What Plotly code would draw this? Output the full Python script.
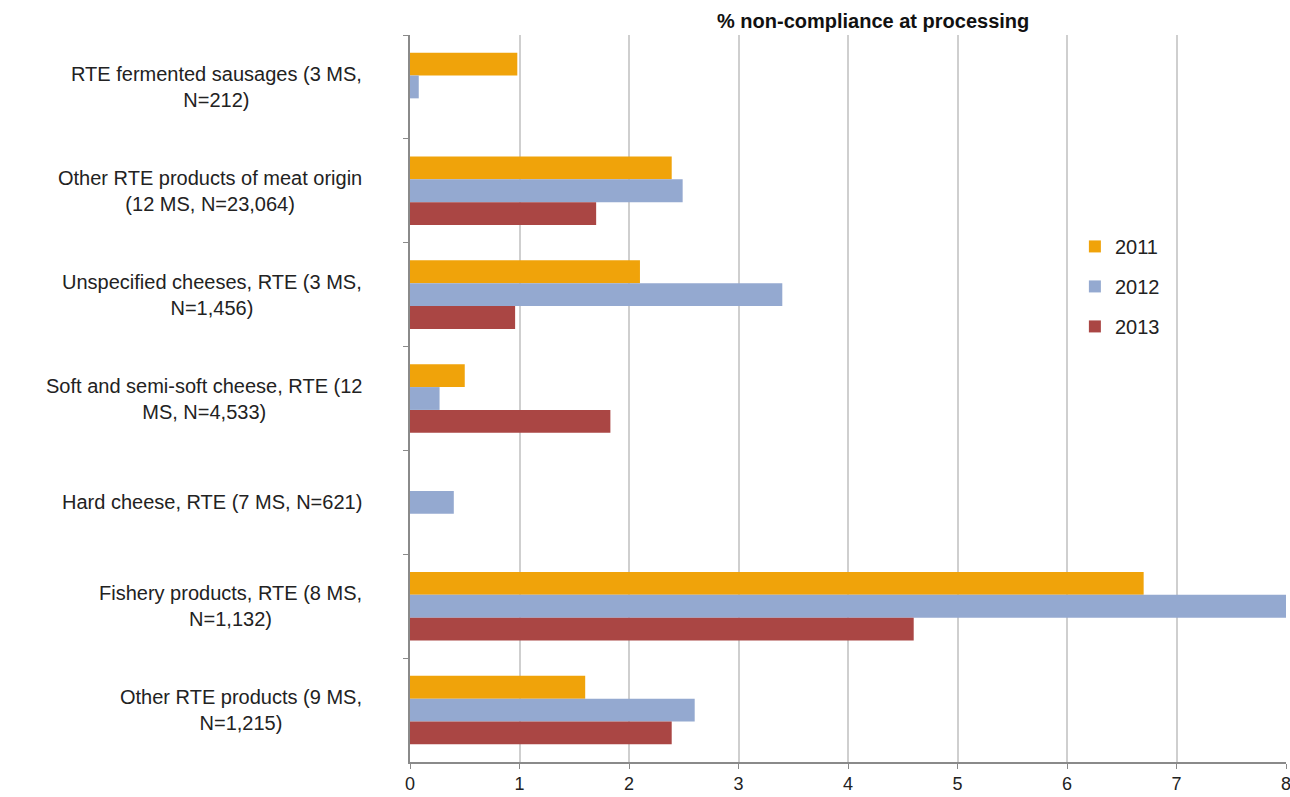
import plotly.graph_objects as go

# Food categories (top to bottom) and % non-compliance at processing per year
categories = [
    "RTE fermented sausages (3 MS,<br>N=212)",
    "Other RTE products of meat origin<br>(12 MS, N=23,064)",
    "Unspecified cheeses, RTE (3 MS,<br>N=1,456)",
    "Soft and semi-soft cheese, RTE (12<br>MS, N=4,533)",
    "Hard cheese, RTE (7 MS, N=621)",
    "Fishery products, RTE (8 MS,<br>N=1,132)",
    "Other RTE products (9 MS,<br>N=1,215)",
]
years = ["2011", "2012", "2013"]
values_2011 = [0.98, 2.39, 2.10, 0.50, 0.0, 6.70, 1.60]
values_2012 = [0.08, 2.49, 3.40, 0.27, 0.40, 8.00, 2.60]
values_2013 = [0.0, 1.70, 0.96, 1.83, 0.0, 4.60, 2.39]
x_ticks = [0, 1, 2, 3, 4, 5, 6, 7, 8]

colors = ["#F0A30A", "#94A9D0", "#AA4644"]
series = [values_2011, values_2012, values_2013]
font_family = "Liberation Sans, Arial"

fig = go.Figure()
for year, vals, col in zip(years, series, colors):
    fig.add_trace(go.Bar(
        y=categories, x=vals, name=year, orientation="h",
        marker=dict(color=col, line=dict(width=0)),
        legendgroup=year,
    ))

# category labels, centred multi-line text right-aligned against the axis
for cat in categories:
    fig.add_annotation(
        x=0, xref="paper", y=cat, yref="y", text=cat,
        xanchor="right", xshift=-46, align="center", showarrow=False,
        font=dict(family=font_family, size=20, color="#222222"),
    )

fig.add_annotation(
    x=0.528, xref="paper", y=1, yref="paper", yanchor="bottom", yshift=1,
    text="<b>% non-compliance at processing</b>", showarrow=False,
    font=dict(family=font_family, size=20, color="#111111"),
)

fig.update_layout(
    width=1290, height=797,
    margin=dict(l=410, r=4, t=35, b=35),
    paper_bgcolor="white", plot_bgcolor="white",
    barmode="group", bargap=0.34, bargroupgap=0,
    showlegend=True,
    legend=dict(
        x=0.759, y=0.736, xanchor="left", yanchor="top",
        font=dict(family=font_family, size=20, color="#222222"),
        traceorder="grouped", tracegroupgap=11,
        bgcolor="rgba(0,0,0,0)",
    ),
    xaxis=dict(
        range=[0, 8], tickvals=x_ticks, ticktext=[str(t) for t in x_ticks],
        showgrid=True, gridcolor="#CFCFCF", gridwidth=1.5,
        showline=True, linecolor="#8A8A8A", linewidth=1.5,
        ticks="outside", ticklen=5, tickcolor="#8A8A8A",
        zeroline=False, ticklabeloverflow="allow", automargin=False,
        tickfont=dict(family=font_family, size=18, color="#222222"),
    ),
    yaxis=dict(
        type="category", categoryorder="array", categoryarray=categories,
        autorange="reversed", showticklabels=False,
        showline=True, linecolor="#8A8A8A", linewidth=1.5,
        ticks="outside", ticklen=5, tickcolor="#8A8A8A", tickson="boundaries",
        showgrid=False, zeroline=False,
    ),
)

fig.write_html("out.html")
